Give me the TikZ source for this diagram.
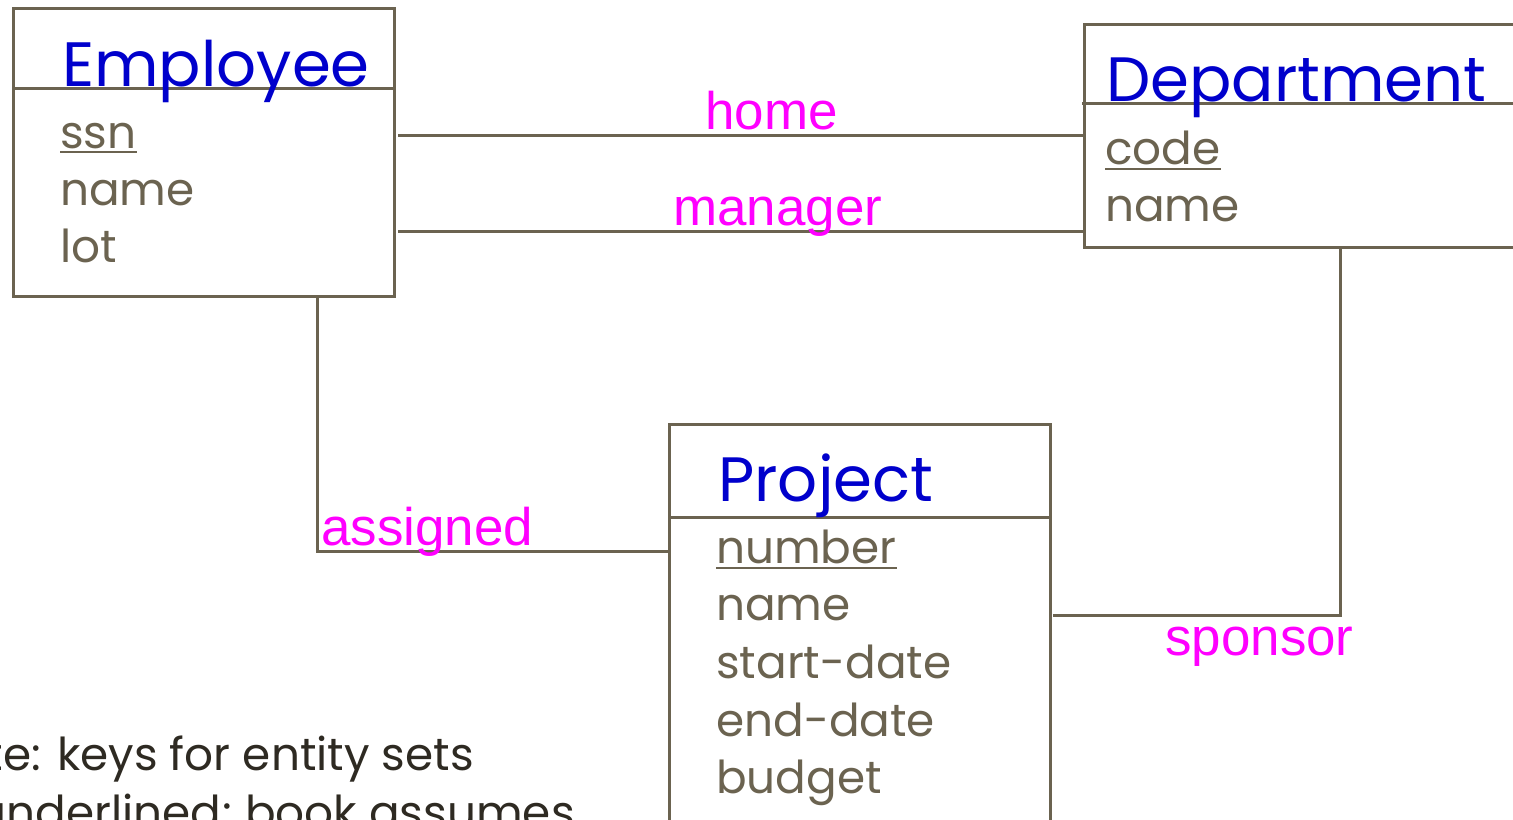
\documentclass[tikz,border=0pt]{standalone}
\usepackage{fontspec}
\usetikzlibrary{fit}
\newfontfamily\gfont{Poppins}
\newfontfamily\afont{Liberation Sans}
\definecolor{boxc}{HTML}{6B6350}
\definecolor{attc}{HTML}{6B6350}
\definecolor{titc}{HTML}{0000CC}
\definecolor{labc}{HTML}{FF00FF}
\definecolor{notec}{HTML}{2E2A22}
\tikzset{
  entity/.style={draw=boxc, line width=2.25pt, rectangle, inner sep=0pt},
  titletext/.style={font=\gfont\fontsize{47}{56}\selectfont, text=titc, anchor=base west, inner sep=0pt},
  attr/.style={font=\gfont\fontsize{34}{40}\selectfont, text=attc, anchor=base west, inner sep=0pt},
  rellabel/.style={font=\afont\fontsize{39.7}{46}\selectfont, text=labc, anchor=base west, inner sep=0pt},
  notetext/.style={font=\gfont\fontsize{34}{40}\selectfont, text=notec, anchor=base east, inner sep=0pt},
  conn/.style={draw=boxc, line width=2.25pt},
  keyline/.style={draw=attc, line width=2.2pt}
}
\begin{document}
\begin{tikzpicture}[x=0.75pt,y=-0.75pt]
\useasboundingbox (0,0) rectangle (1513,819);
\clip (0,0) rectangle (1513,819);
\fill[white] (0,0) rectangle (1513,819);

% Employee
\coordinate (e1) at (13,8);
\coordinate (e2) at (394,296);
\node[entity, fit=(e1)(e2)] (emp) {};
\draw[conn] (13,88) -- (396,88);
\node[titletext] (empT) at (62,86) {Employee};
\node[attr] (empA1) at (60,148) {ssn};
\draw[keyline] (empA1.base west) ++(0,4) -- ([yshift=-4*0.75pt]empA1.base east);
\node[attr] (empA2) at (60,205) {name};
\node[attr] (empA3) at (60,262) {lot};

% Department
\coordinate (d1) at (1084,24);
\coordinate (d2) at (1600,247);
\node[entity, fit=(d1)(d2)] (dept) {};
\draw[conn] (1082,103) -- (1600,103);
\node[titletext] (deptT) at (1106,101) {Department};
\node[attr] (deptA1) at (1105,164) {code};
\draw[keyline] (deptA1.base west) ++(0,5) -- ([yshift=-5*0.75pt]deptA1.base east);
\node[attr] (deptA2) at (1105,221) {name};

% Project
\coordinate (p1) at (669,424);
\coordinate (p2) at (1050,900);
\node[entity, fit=(p1)(p2)] (proj) {};
\draw[conn] (669,517) -- (1052,517);
\node[titletext] (projT) at (718,501) {Project};
\node[attr] (projA1) at (716,563) {number};
\draw[keyline] (projA1.base west) ++(0,5) -- ([yshift=-5*0.75pt]projA1.base east);
\node[attr] (projA2) at (716,620) {name};
\node[attr] (projA3) at (716,678) {start-date};
\node[attr] (projA4) at (716,736) {end-date};
\node[attr] (projA5) at (716,793) {budget};

% connectors
\coordinate (hA) at (398,135);
\coordinate (mA) at (398,231);
\draw[conn] (hA) -- (hA -| dept.west);
\draw[conn] (mA) -- (mA -| dept.west);
\coordinate (aTop) at (317,296);
\coordinate (aBend) at (317,551);
\draw[conn] (aTop |- emp.south) -- (aBend) -- (aBend -| proj.west);
\coordinate (sTop) at (1340,247);
\coordinate (sBend) at (1340,615);
\draw[conn] (sTop |- dept.south) -- (sBend) -- (1053,615);

% relationship labels
\node[rellabel] (home) at (705,129) {home};
\node[rellabel] (manager) at (673,225) {manager};
\node[rellabel] (assigned) at (321,545) {assigned};
\node[rellabel] (sponsor) at (1165,655) {sponsor};

% note
\node[notetext] (note1) at (474,770) {Note: keys for entity sets};
\node[notetext] (note2) at (575,828) {underlined; book assumes};
\end{tikzpicture}
\end{document}
